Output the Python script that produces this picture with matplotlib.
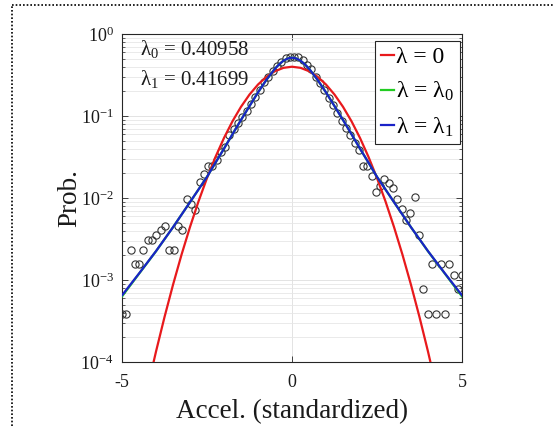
import numpy as np
import matplotlib
matplotlib.use('Agg')
import matplotlib.pyplot as plt
from matplotlib.lines import Line2D

plt.rcParams['font.family'] = ['Liberation Serif', 'DejaVu Serif']
plt.rcParams['mathtext.fontset'] = 'custom'
plt.rcParams['mathtext.rm'] = 'Liberation Serif'
plt.rcParams['mathtext.it'] = 'Liberation Serif'
plt.rcParams['mathtext.default'] = 'regular'

# histogram of standardized acceleration (bin centres, probability)
pts_x = [-5.00, -4.87, -4.75, -4.62, -4.49, -4.37, -4.24, -4.11, -3.99, -3.86,
         -3.73, -3.61, -3.48, -3.35, -3.23, -3.10, -2.97, -2.85, -2.72, -2.59,
         -2.47, -2.34, -2.22, -2.09, -1.96, -1.84, -1.71, -1.58, -1.46, -1.33,
         -1.20, -1.08, -0.95, -0.82, -0.70, -0.57, -0.44, -0.32, -0.19, -0.06,
         0.06, 0.19, 0.32, 0.44, 0.57, 0.70, 0.82, 0.95, 1.08, 1.20,
         1.33, 1.46, 1.58, 1.71, 1.84, 1.96, 2.09, 2.22, 2.34, 2.47,
         2.59, 2.72, 2.85, 2.97, 3.10, 3.23, 3.35, 3.48, 3.61, 3.73,
         3.86, 3.99, 4.11, 4.24, 4.37, 4.49, 4.62, 4.75, 4.87, 5.00]
pts_y = [3.9e-4, 3.9e-4, 2.3e-3, 1.55e-3, 1.55e-3, 2.3e-3, 3.1e-3, 3.1e-3, 3.5e-3, 4.1e-3,
         4.6e-3, 2.3e-3, 2.3e-3, 4.6e-3, 4.1e-3, 9.6e-3, 8.4e-3, 7.2e-3, 0.0155, 0.0196,
         0.0245, 0.0245, 0.029, 0.036, 0.042, 0.058, 0.070, 0.082, 0.098, 0.115,
         0.140, 0.170, 0.210, 0.260, 0.300, 0.355, 0.410, 0.460, 0.510, 0.520,
         0.530, 0.520, 0.480, 0.420, 0.370, 0.300, 0.250, 0.205, 0.165, 0.135,
         0.110, 0.088, 0.072, 0.058, 0.047, 0.038, 0.0245, 0.0245, 0.0186, 0.0120,
         0.0140, 0.0169, 0.0151, 0.0131, 0.0096, 0.0073, 0.0054, 0.0066, 0.0104, 0.0035,
         7.7e-4, 3.9e-4, 1.55e-3, 3.9e-4, 1.55e-3, 3.9e-4, 1.55e-3, 1.15e-3, 7.7e-4, 1.15e-3]

# lambda = 0 curve (gaussian)
red_x = [-4.25, -4.0, -3.75, -3.5, -3.25, -3.0, -2.75, -2.5, -2.25, -2.0, -1.75, -1.5,
         -1.25, -1.0, -0.75, -0.5, -0.25, 0.0, 0.25, 0.5, 0.75, 1.0, 1.25, 1.5,
         1.75, 2.0, 2.25, 2.5, 2.75, 3.0, 3.25, 3.5, 3.75, 4.0, 4.25]
red_y = [4.78e-5, 1.34e-4, 3.53e-4, 8.73e-4, 2.03e-3, 4.43e-3, 9.09e-3, 0.0175, 0.0317, 0.0540, 0.0863, 0.1295,
         0.1826, 0.2420, 0.3011, 0.3521, 0.3867, 0.3989, 0.3867, 0.3521, 0.3011, 0.2420, 0.1826, 0.1295,
         0.0863, 0.0540, 0.0317, 0.0175, 9.09e-3, 4.43e-3, 2.03e-3, 8.73e-4, 3.53e-4, 1.34e-4, 4.78e-5]

# lambda = lambda0 / lambda1 curves (almost identical)
fit_x = [-5.0, -4.5, -4.0, -3.5, -3.0, -2.75, -2.5, -2.25, -2.0, -1.75, -1.5, -1.25, -1.0,
         -0.75, -0.5, -0.375, -0.25, -0.125, 0.0, 0.125, 0.25, 0.375, 0.5, 0.75,
         1.0, 1.25, 1.5, 1.75, 2.0, 2.25, 2.5, 2.75, 3.0, 3.5, 4.0, 4.5, 5.0]
green_y = [0.00063, 0.00119, 0.00224, 0.0044, 0.0089, 0.0127, 0.0181, 0.0270, 0.0400, 0.0601, 0.0896, 0.1322, 0.1942,
           0.2772, 0.3782, 0.4282, 0.4731, 0.5031, 0.5151, 0.5031, 0.4731, 0.4282, 0.3782, 0.2772,
           0.1942, 0.1322, 0.0896, 0.0601, 0.0400, 0.0270, 0.0181, 0.0127, 0.0089, 0.0044, 0.00224, 0.00119, 0.00063]
blue_y = [0.00065, 0.00120, 0.00225, 0.0044, 0.0089, 0.0127, 0.0181, 0.0270, 0.0400, 0.0600, 0.0895, 0.132, 0.194,
          0.277, 0.378, 0.428, 0.473, 0.503, 0.515, 0.503, 0.473, 0.428, 0.378, 0.277,
          0.194, 0.132, 0.0895, 0.0600, 0.0400, 0.0270, 0.0181, 0.0127, 0.0089, 0.0044, 0.00225, 0.00120, 0.00065]

lam0 = 0.40958
lam1 = 0.41699

fig = plt.figure(figsize=(5.53, 4.26), dpi=100)
ax = fig.add_axes([122 / 553, 1 - 362 / 426, 340 / 553, 328 / 426])

ax.plot(pts_x, pts_y, 'o', mfc='none', mec='#333333', ms=5.2, mew=0.8, zorder=3)
ax.plot(red_x, red_y, color='#e8191c', lw=1.6, label='λ = 0', zorder=4)
ax.plot(fit_x, green_y, color='#22cc22', lw=1.6, label='λ = λ$_0$', zorder=4)
ax.plot(fit_x, blue_y, color='#1a22c8', lw=1.6, label='λ = λ$_1$', zorder=5)

ax.set_yscale('log')
ax.set_xlim(-5, 5)
ax.set_ylim(1e-4, 1)
ax.set_xticks([-5, 0, 5])
ax.set_xticklabels(['-5', '0', '5'])
ax.set_yticks([1e-4, 1e-3, 1e-2, 1e-1, 1])
ax.set_yticklabels(['10$^{-4}$', '10$^{-3}$', '10$^{-2}$', '10$^{-1}$', '10$^{0}$'])

ax.grid(True, which='major', axis='both', color='#dedede', lw=0.6)
ax.grid(True, which='minor', axis='y', color='#e6e6e6', lw=0.6)
ax.set_axisbelow(True)

ax.tick_params(which='both', direction='in', top=True, right=True, colors='#262626', labelcolor='#1a1a1a')
ax.tick_params(which='major', length=4, width=0.6, labelsize=13)
ax.tick_params(which='minor', length=2, width=0.5)
ax.tick_params(axis='x', pad=8.5)
ax.tick_params(axis='y', pad=6)
for s in ax.spines.values():
    s.set_color('#262626')
    s.set_linewidth(0.8)

ax.set_xlabel('Accel. (standardized)', fontsize=19.5, color='#1a1a1a', labelpad=6)
ax.set_ylabel('Prob.', fontsize=19.5, color='#1a1a1a', labelpad=-1.5)

ax.text(0.053, 0.936, 'λ$_0$ = %.5f' % lam0, transform=ax.transAxes, fontsize=15, va='baseline', color='#1a1a1a')
ax.text(0.053, 0.845, 'λ$_1$ = %.5f' % lam1, transform=ax.transAxes, fontsize=15, va='baseline', color='#1a1a1a')

leg = ax.legend(loc='upper right', bbox_to_anchor=(0.994, 0.979), fontsize=17, handlelength=0.55,
                handletextpad=0.1, borderpad=0.25, labelspacing=0.5, fancybox=False,
                edgecolor='#262626', framealpha=1, borderaxespad=0)
leg.get_frame().set_linewidth(0.8)

# dotted frame of the panel
fig.add_artist(Line2D([12 / 553, 1], [1 - 5 / 426, 1 - 5 / 426], transform=fig.transFigure,
                      ls=(0, (1, 1.2)), color='k', lw=1.2))
fig.add_artist(Line2D([12 / 553, 12 / 553], [0, 1 - 5 / 426], transform=fig.transFigure,
                      ls=(0, (1, 1.2)), color='k', lw=1.2))

fig.savefig('out.png', dpi=100)
